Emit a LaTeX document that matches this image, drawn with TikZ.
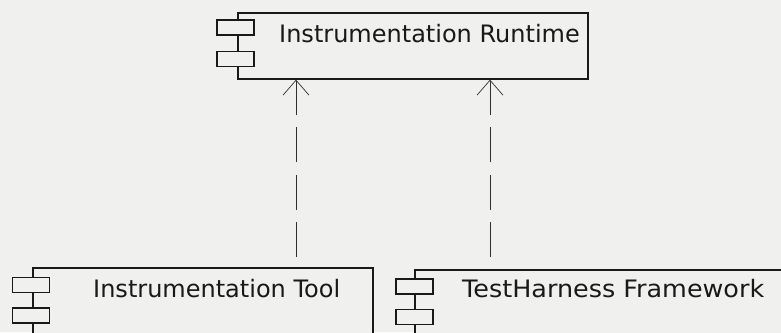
\documentclass[tikz,border=0pt]{standalone}
\usepackage{fontspec}
\setmainfont{DejaVu Sans}
\usetikzlibrary{arrows.meta}
\definecolor{bgc}{RGB}{240,240,238}
\definecolor{ink}{RGB}{25,25,25}
\begin{document}
\begin{tikzpicture}[x=1pt,y=-1pt,
  compbox/.style={draw=ink,line width=1.3pt,fill=bgc,minimum width=#1,inner sep=0pt},
  tab/.style={draw=ink,line width=1.3pt,fill=bgc,minimum width=37pt,minimum height=15pt,inner sep=0pt},
  label/.style={anchor=base west,inner sep=0pt,text=ink,font=\fontsize{24}{28}\selectfont},
  dep/.style={draw=ink!90,line width=1pt,dash pattern=on 35pt off 12.5pt,
    -{Straight Barb[length=15pt,width=26pt,line width=0.7pt]}}]
\useasboundingbox (0,0) rectangle (781,332);
\fill[bgc] (0,0) rectangle (781,332);
\clip (0,0) rectangle (781,332);
% top component
\node[compbox=350pt,minimum height=66pt] (rt) at (413,46) {};
\node[tab] (rt1) at (235.5,27.5) {};
\node[tab] (rt2) at (235.5,59) {};
\node[label] (rtl) at (279,42) {Instrumentation Runtime};
% bottom left component
\node[compbox=340pt,minimum height=92pt] (tool) at (203,314) {};
\node[tab] (tool1) at (31,285) {};
\node[tab] (tool2) at (31,315.5) {};
\node[label] (tooll) at (93,297) {Instrumentation Tool};
% bottom right component
\node[compbox=385pt,minimum height=90pt] (th) at (607.5,315) {};
\node[tab] (th1) at (414.5,286.5) {};
\node[tab] (th2) at (414.5,317) {};
\node[label] (thl) at (462,297) {\scalebox{1.06}[1]{TestHarness Framework}};
% dependencies
\coordinate (d1) at (296,257);
\coordinate (d2) at (490,257);
\draw[dep] (d1) -- (d1 |- rt.south);
\draw[dep] (d2) -- (d2 |- rt.south);
\end{tikzpicture}
\end{document}
